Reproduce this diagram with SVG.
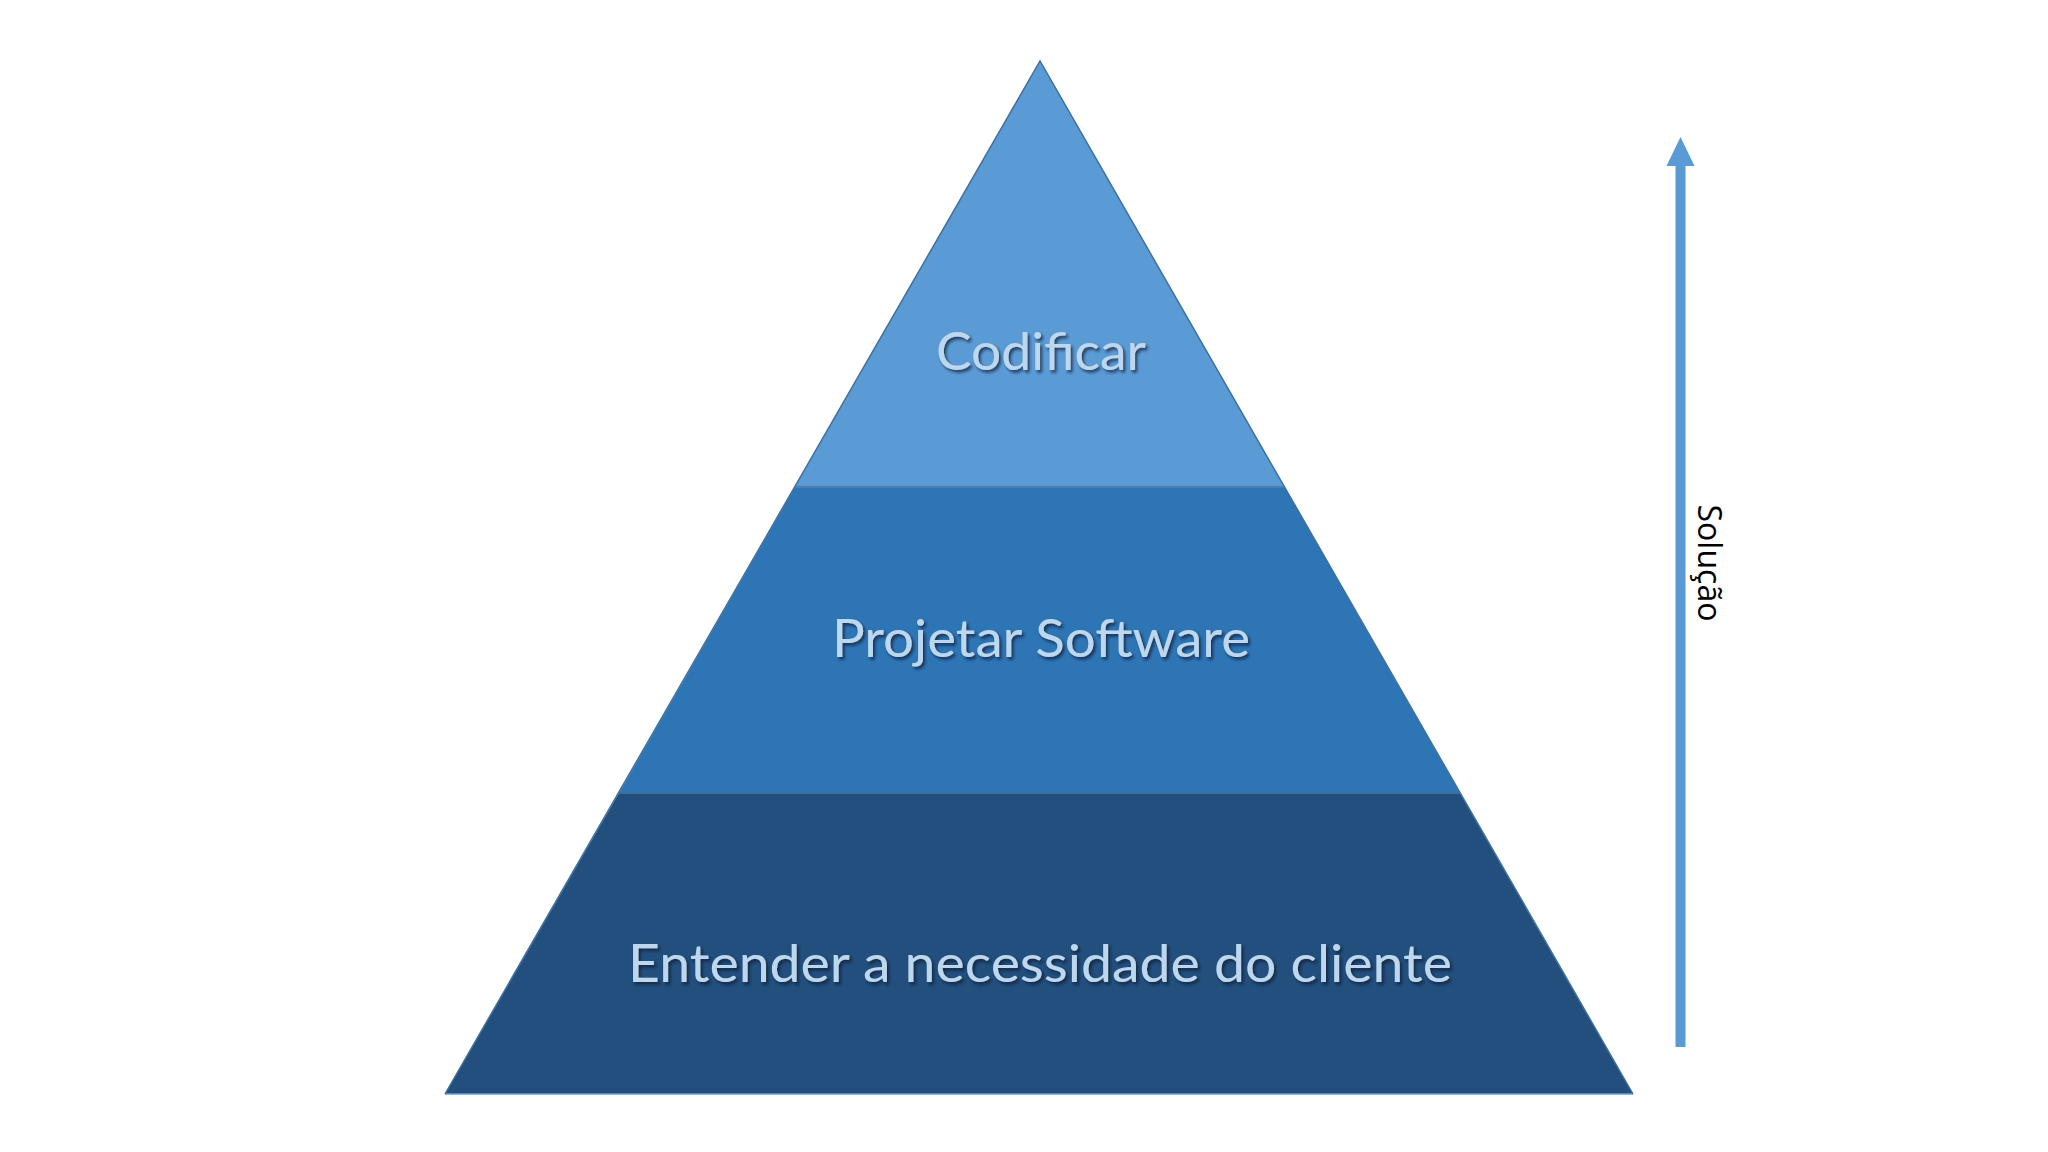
<svg xmlns="http://www.w3.org/2000/svg" width="2048" height="1152" viewBox="0 0 2048 1152">
  <defs>
    <filter id="shadow" x="-10%" y="-30%" width="120%" height="160%">
      <feDropShadow dx="2" dy="2.5" stdDeviation="1.5" flood-color="#0a1e33" flood-opacity="0.75"/>
    </filter>
  </defs>
  <style>
    .layer { stroke: none; }
    .edge { fill: none; stroke: #3f6f9c; stroke-width: 1.5; stroke-linejoin: miter; }
    .lbl { font-family: Lato, "Open Sans", "Liberation Sans", sans-serif; font-size: 52px; fill: #bdd7ee; text-anchor: middle; filter: url(#shadow); }
    .side { font-family: "Open Sans", "Noto Sans", "Liberation Sans", sans-serif; font-size: 33px; fill: #000000; text-anchor: middle; }
  </style>
  <rect x="0" y="0" width="2048" height="1152" fill="#ffffff"/>

  <g id="layer-codificar">
    <polygon class="layer" points="1040,61 1284.5,487 795,487" fill="#5b9bd5"/>
    <text class="lbl" x="1041" y="370" textLength="210" lengthAdjust="spacingAndGlyphs">Codificar</text>
  </g>

  <g id="layer-projetar">
    <polygon class="layer" points="795,487 1284.5,487 1460,793 619,793" fill="#2e75b6"/>
    <line x1="795" y1="487" x2="1284.5" y2="487" stroke="#4a7fb0" stroke-width="2"/>
    <text class="lbl" x="1041" y="657" textLength="418" lengthAdjust="spacingAndGlyphs">Projetar Software</text>
  </g>

  <g id="layer-entender">
    <polygon class="layer" points="619,793 1460,793 1633,1094 445,1094" fill="#224f7d"/>
    <line x1="619" y1="793" x2="1460" y2="793" stroke="#3c6f9f" stroke-width="2"/>
    <line x1="445" y1="1094" x2="1633" y2="1094" stroke="#6a9fd0" stroke-width="1.5"/>
    <text class="lbl" x="1040" y="982" textLength="824" lengthAdjust="spacingAndGlyphs">Entender a necessidade do cliente</text>
  </g>

  <g id="pyramid-outline">
    <polyline class="edge" points="445,1094 1040,61 1633,1094"/>
  </g>

  <g id="connectors">
    <g id="arrow-solucao">
      <rect x="1675.5" y="165" width="10" height="882" fill="#5b9bd5"/>
      <polygon points="1680.5,137 1694.5,166 1666.5,166" fill="#5b9bd5"/>
      <text class="side" transform="translate(1698,563) rotate(90)" x="0" y="0" textLength="117" lengthAdjust="spacingAndGlyphs">Solução</text>
    </g>
  </g>
</svg>
